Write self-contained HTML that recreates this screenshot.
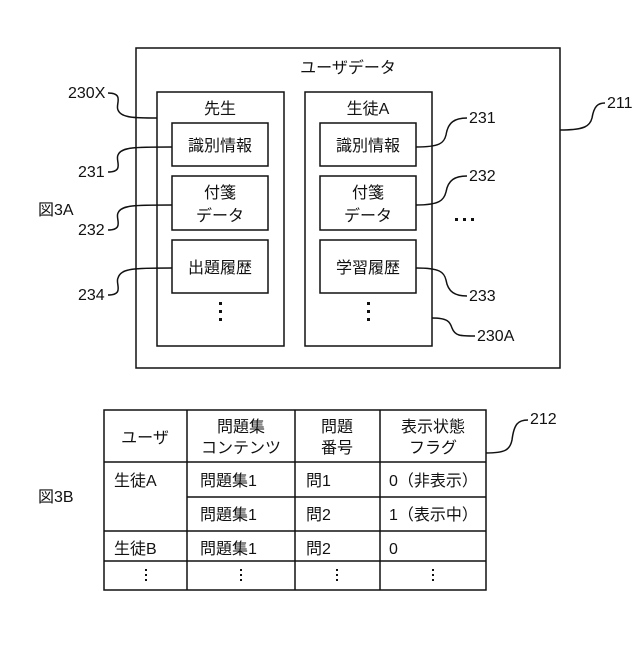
<!DOCTYPE html>
<html><head><meta charset="utf-8"><style>
body{margin:0;background:#fff}
svg text{font-family:"Liberation Sans","Noto Sans CJK JP",sans-serif;font-size:16px;fill:#111}
</style></head><body>
<svg width="640" height="640" viewBox="0 0 640 640" xmlns="http://www.w3.org/2000/svg">
<g fill="none" stroke="#111" stroke-width="1.5">
<rect x="136" y="48" width="424" height="320"/>
<rect x="157" y="92" width="127" height="254"/>
<rect x="305" y="92" width="127" height="254"/>
<rect x="172" y="123" width="96" height="43"/>
<rect x="172" y="176" width="96" height="54"/>
<rect x="172" y="240" width="96" height="53"/>
<rect x="320" y="123" width="96" height="43"/>
<rect x="320" y="176" width="96" height="54"/>
<rect x="320" y="240" width="96" height="53"/>
<path d="M108,93 C125,93 115,105 118,110 C121,118 135,118 157,118"/>
<path d="M108,172 C125,172 115,160 118,155 C121,147 135,147 172,147"/>
<path d="M108,230 C125,230 115,218 118,213 C121,205 135,205 172,205"/>
<path d="M108,295 C125,295 115,283 118,278 C121,268 135,268 172,268"/>
<path d="M416,147 C440,147 444,143 446,135 C448,122 455,118 467,118"/>
<path d="M416,205 C440,205 444,200 446,192 C448,180 455,176 467,176"/>
<path d="M416,268 C440,268 444,272 446,280 C448,292 455,296 467,296"/>
<path d="M432,318 C448,318 450,322 452,328 C455,336 460,336 475,336"/>
<path d="M560,130 C585,130 590,126 592,118 C594,106 598,103 605,103"/>
<path d="M486,453 C505,453 510,450 512,440 C514,424 518,420 528,420"/>
<rect x="104" y="410" width="382" height="180"/>
<line x1="187" y1="410" x2="187" y2="590"/>
<line x1="295" y1="410" x2="295" y2="590"/>
<line x1="380" y1="410" x2="380" y2="590"/>
<line x1="104" y1="462" x2="486" y2="462"/>
<line x1="187" y1="497" x2="486" y2="497"/>
<line x1="104" y1="531" x2="486" y2="531"/>
<line x1="104" y1="561" x2="486" y2="561"/>
</g>
<g fill="#111">
<rect x="219" y="302" width="3" height="3"/><rect x="219" y="310" width="3" height="3"/><rect x="219" y="318" width="3" height="3"/>
<rect x="367" y="302" width="3" height="3"/><rect x="367" y="310" width="3" height="3"/><rect x="367" y="318" width="3" height="3"/>
<rect x="455" y="218" width="3" height="3"/><rect x="463" y="218" width="3" height="3"/><rect x="471" y="218" width="3" height="3"/>
<rect x="145" y="569" width="2" height="2"/><rect x="145" y="574" width="2" height="2"/><rect x="145" y="579" width="2" height="2"/>
<rect x="240" y="569" width="2" height="2"/><rect x="240" y="574" width="2" height="2"/><rect x="240" y="579" width="2" height="2"/>
<rect x="336" y="569" width="2" height="2"/><rect x="336" y="574" width="2" height="2"/><rect x="336" y="579" width="2" height="2"/>
<rect x="432" y="569" width="2" height="2"/><rect x="432" y="574" width="2" height="2"/><rect x="432" y="579" width="2" height="2"/>
</g>
<g text-anchor="middle">
<text x="348" y="73">ユーザデータ</text>
<text x="220" y="114">先生</text>
<text x="368" y="114">生徒A</text>
<text x="220" y="151">識別情報</text>
<text x="368" y="151">識別情報</text>
<text x="220" y="198">付箋</text><text x="220" y="221">データ</text>
<text x="368" y="198">付箋</text><text x="368" y="221">データ</text>
<text x="220" y="273">出題履歴</text>
<text x="368" y="273">学習履歴</text>
<text x="145" y="443">ユーザ</text>
<text x="241" y="432">問題集</text><text x="241" y="453">コンテンツ</text>
<text x="337" y="432">問題</text><text x="337" y="453">番号</text>
<text x="433" y="432">表示状態</text><text x="433" y="453">フラグ</text>
</g>
<g>
<text x="114" y="486">生徒A</text>
<text x="114" y="554">生徒B</text>
<text x="200" y="486">問題集1</text><text x="200" y="520">問題集1</text><text x="200" y="554">問題集1</text>
<text x="306" y="486">問1</text><text x="306" y="520">問2</text><text x="306" y="554">問2</text>
<text x="389" y="486">0（非表示）</text><text x="389" y="520">1（表示中）</text><text x="389" y="554">0</text>
<text x="68" y="98">230X</text>
<text x="78" y="177">231</text>
<text x="78" y="235">232</text>
<text x="78" y="300">234</text>
<text x="469" y="123">231</text>
<text x="469" y="181">232</text>
<text x="469" y="301">233</text>
<text x="477" y="341">230A</text>
<text x="607" y="108">211</text>
<text x="530" y="424">212</text>
<text x="38" y="215">図3A</text>
<text x="38" y="502">図3B</text>
</g>
</svg>
</body></html>
